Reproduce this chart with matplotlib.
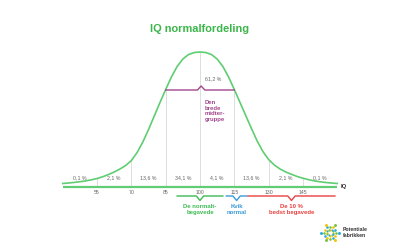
import numpy as np
import matplotlib
matplotlib.use("Agg")
import matplotlib.pyplot as plt

plt.rcParams['font.family'] = ['Liberation Sans', 'DejaVu Sans']

# curve (height above the IQ axis, pixels)
iq = [40, 42.5, 45, 47.5, 50, 52.5, 55, 57.5, 60, 62.5, 65, 67.5, 70, 72.5, 75, 77.5,
      80, 82.5, 85, 87.5, 90, 92.5, 95, 97.5, 100, 102.5, 105, 107.5, 110, 112.5, 115,
      117.5, 120, 122.5, 125, 127.5, 130, 132.5, 135, 137.5, 140, 142.5, 145, 147.5,
      150, 152.5, 155, 157.5, 160]
height = [3.0, 3.5, 4.1, 4.8, 5.6, 6.7, 8.0, 9.8, 12.0, 14.5, 17.5, 21.0, 26.0, 34.0,
          44.5, 57.0, 70.5, 84.0, 97.0, 109.5, 120.0, 127.5, 132.0, 134.0, 134.5, 134.0,
          132.0, 127.5, 120.0, 109.5, 97.0, 84.0, 71.0, 58.0, 45.5, 35.0, 27.0, 21.5,
          17.5, 14.5, 12.2, 10.0, 8.3, 6.8, 5.6, 4.7, 4.0, 3.5, 3.0]

ticks = [55, 70, 85, 100, 115, 130, 145]
share_pos = [47.5, 62.5, 77.5, 92.5, 107.5, 122.5, 137.5, 152.5]
share_txt = ["0,1 %", "2,1 %", "13,6 %", "34,1 %", "4,1 %", "13,6 %", "2,1 %", "0,1 %"]

groups = [("De normalt-\nbegavede", 90, 110, 100, "#3dbb55"),
          ("Kvik\nnormal", 111.5, 120.5, 116, "#3b9bd8"),
          ("De 10 %\nbedst begavede", 121, 159, 140, "#e8413f")]

green = "#5fcd72"
purple = "#a2468e"
grey = "#666666"

k = 34.3 / 15  # px per IQ point
fig = plt.figure(figsize=(4, 2.5), dpi=100)
ax = fig.add_axes([0, 0, 1, 1])
ax.set_xlim(100 - 200 / k, 100 + 200 / k)
ax.set_ylim(-63.5, 186.5)
ax.axis("off")

# grid lines up to the curve
for t in ticks:
    ax.plot([t, t], [0, np.interp(t, iq, height)], color="#dddddd", lw=0.7, zorder=1)

ax.plot(iq, height, color=green, lw=1.2, zorder=3)
ax.plot([40, 160], [0, 0], color=green, lw=1.6, zorder=4, solid_capstyle="butt")
ax.text(161.5, 0, "IQ", fontsize=4.3, fontweight="bold", color="#333333",
        ha="left", va="center")

for t in ticks:
    ax.text(t, -5.8, str(t), fontsize=3.7, color=grey, ha="center", va="center")
for p, s in zip(share_pos, share_txt):
    ax.text(p, 8.5, s, fontsize=3.8, color=grey, ha="center", va="center")

# middle group brace
d = 1.6
ax.plot([85, 100.5 - d, 100.5, 100.5 + d, 115], [96.5, 96.5, 100.5, 96.5, 96.5],
        color=purple, lw=1.0, zorder=5)
ax.text(105.7, 107.5, "61,2 %", fontsize=3.8, color=grey, ha="center", va="center")
ax.text(102.2, 86.5, "Den\nbrede\nmidter-\ngruppe", fontsize=4.3, fontweight="bold",
        color=purple, ha="left", va="top", linespacing=1.15)

# lower braces
for label, x1, x2, xm, col in groups:
    ax.plot([x1, xm - d, xm, xm + d, x2], [-9.5, -9.5, -14, -9.5, -9.5],
            color=col, lw=1.0)
    ax.text(xm, -17.5, label, fontsize=4.3, fontweight="bold", color=col,
            ha="center", va="top", linespacing=1.15)

fig.text(0.5, 0.884, "IQ normalfordeling", fontsize=7.9, fontweight="bold",
         color="#3cb54a", ha="center", va="center")

# logo
lax = fig.add_axes([0.8, 0.03, 0.05, 0.08])
lax.set_xlim(-1, 1)
lax.set_ylim(-1, 1)
lax.axis("off")
cols = ["#f2c500", "#7ac143", "#29a8e0"]
for i in range(12):
    a = i * np.pi / 6
    for j, r in enumerate([0.3, 0.6, 0.9]):
        if (i + j) % 2 and j == 2:
            continue
        lax.scatter(r * np.cos(a), r * np.sin(a), s=2.5 + j * 1.0,
                    color=cols[(i + j) % 3], lw=0)
fig.text(0.856, 0.07, "Potentiale\nfabrikken", fontsize=3.7, fontweight="bold",
         color="#333333", ha="left", va="center", linespacing=1.1)

fig.savefig("out.png", dpi=100)
